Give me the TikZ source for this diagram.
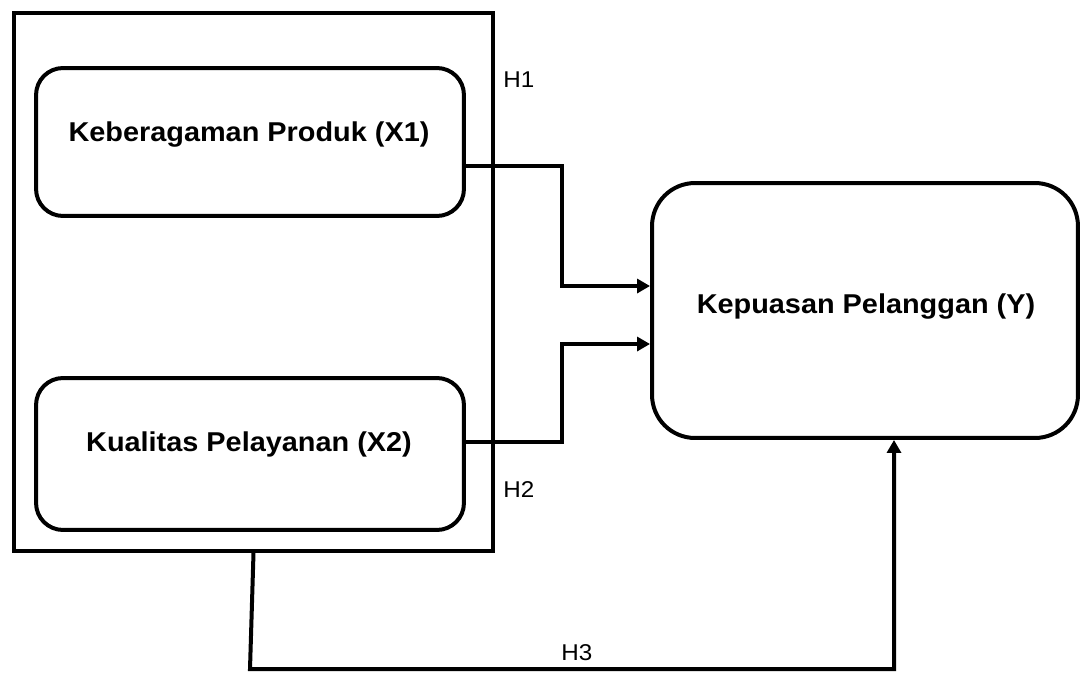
\documentclass[tikz,border=0pt]{standalone}
\usepackage{fontspec}
\setmainfont{Liberation Sans}
\newfontfamily\widesans[FakeStretch=1.06]{Liberation Sans}
\usetikzlibrary{arrows.meta,calc}
\tikzset{
  lw/.style={line width=0.08cm},
  frame/.style={lw, draw, rectangle, inner sep=0pt},
  varbox/.style={lw, draw, rectangle, rounded corners=0.54cm, inner sep=0pt},
  bigbox/.style={lw, draw, rectangle, rounded corners=0.86cm, inner sep=0pt},
  varlabel/.style={anchor=base, inner sep=0pt, font=\widesans\fontsize{15.5}{18}\selectfont\bfseries},
  hyp/.style={anchor=base west, inner sep=0pt, font=\widesans\fontsize{13}{15}\selectfont},
  conn/.style={lw, line join=miter, -{Triangle[length=0.26cm,width=0.28cm]}}
}
\begin{document}
\begin{tikzpicture}[x=0.02cm,y=-0.02cm]
  \useasboundingbox (0,0) rectangle (1080,673);

  % group frame around the two independent variables
  \node[frame, minimum width=9.58cm, minimum height=10.76cm] (grp) at (253.5,282) {};

  % variable boxes
  \node[varbox, minimum width=8.56cm, minimum height=2.96cm] (x1) at (250,142) {};
  \node[varbox, minimum width=8.56cm, minimum height=3.04cm] (x2) at (250,454) {};
  \node[bigbox, minimum width=8.52cm, minimum height=5.10cm] (y) at (865,310.5) {};

  % box captions
  \node[varlabel] (x1t) at (249,141) {Keberagaman Produk (X1)};
  \node[varlabel] (x2t) at (249,451) {Kualitas Pelayanan (X2)};
  \node[varlabel] (yt) at (866,313) {Kepuasan Pelanggan (Y)};

  % hypothesis labels
  \node[hyp] (h1) at (503,87) {H1};
  \node[hyp] (h2) at (503,497) {H2};
  \node[hyp] (h3) at (561,660) {H3};

  % H1 and H2 paths
  \draw[conn] ($(x1.east)+(0,24)$) -| (562,286) -- (y.west |- 562,286);
  \draw[conn] ($(x2.east)+(0,-12)$) -| (562,344) -- (y.west |- 562,344);

  % H3 path: from the group frame to the dependent variable
  \coordinate (c1) at (250,669);
  \draw[conn] (grp.south) -- (c1) -| ($(y.south)+(29,0)$);
\end{tikzpicture}
\end{document}
